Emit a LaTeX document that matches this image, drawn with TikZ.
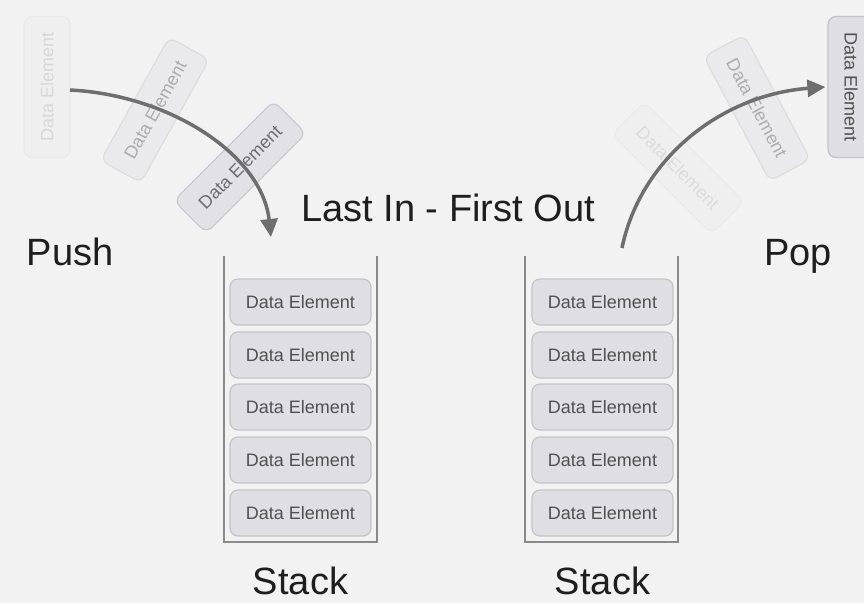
\documentclass[tikz,border=0pt]{standalone}
\usepackage{fontspec}
\setmainfont{Liberation Sans}
\usetikzlibrary{arrows.meta}
\definecolor{bg}{HTML}{F2F2F2}
\definecolor{elfill}{HTML}{DFDFE3}
\definecolor{eldraw}{HTML}{C4C4C8}
\definecolor{eltext}{HTML}{505050}
\definecolor{wall}{HTML}{8A8A8A}
\definecolor{arr}{HTML}{6E6E6E}
\definecolor{bigtext}{HTML}{1E1E1E}
\tikzset{
  elem/.style={draw=eldraw, fill=elfill, line width=1.2pt, rounded corners=8pt,
    minimum width=141pt, minimum height=46pt, inner sep=0pt, text=eltext,
    font=\fontsize{18}{20}\selectfont},
  wallline/.style={draw=wall, line width=2pt},
  bigtxt/.style={text=bigtext, font=\fontsize{38}{42}\selectfont, inner sep=0pt, anchor=base},
  flow/.style={draw=arr, line width=3.5pt, -{Triangle[length=18pt,width=17pt]}}
}
\begin{document}
\begin{tikzpicture}[x=1pt,y=-1pt]
\fill[bg] (0,0) rectangle (864,603);
\clip (0,0) rectangle (864,603);
% stacks
\draw[wallline] (224,256) -- (224,542) -- (377,542) -- (377,256);
\draw[wallline] (525,256) -- (525,542) -- (678,542) -- (678,256);
\foreach \i/\y in {1/302,2/355,3/407,4/460,5/513}{
  \node[elem] (l\i) at (300.5,\y) {Data Element};
  \node[elem] (r\i) at (602.5,\y) {Data Element};
}
% labels
\node[bigtxt] (lifo) at (448,221) {Last In - First Out};
\node[bigtxt] (push) at (70,265) {Push};
\node[bigtxt] (pop) at (798,265) {Pop};
\node[bigtxt] (sl) at (300.5,594) {Stack};
\node[bigtxt] (sr) at (602.5,594) {Stack};
% flying elements left
\node[elem, rotate=90, opacity=0.15] (p1) at (47,87) {Data Element};
\node[elem, rotate=61, opacity=0.4] (p2) at (155,110) {Data Element};
\node[elem, rotate=45, opacity=0.8] (p3) at (240,167) {Data Element};
% flying elements right
\node[elem, rotate=-45, opacity=0.12] (q1) at (678,168) {Data Element};
\node[elem, rotate=-62, opacity=0.4] (q2) at (757,108) {Data Element};
\node[elem, rotate=-90] (q3) at (851,87) {Data Element};
% arrows
\coordinate (ps) at (70,90);
\coordinate (pe) at (271,237);
\draw[flow] (ps) .. controls (170,95) and (262,155) .. (pe);
\coordinate (qs) at (622,248);
\draw[flow] (qs) .. controls (640,160) and (720,95) .. ([xshift=-2pt]q3.south);
\end{tikzpicture}
\end{document}
